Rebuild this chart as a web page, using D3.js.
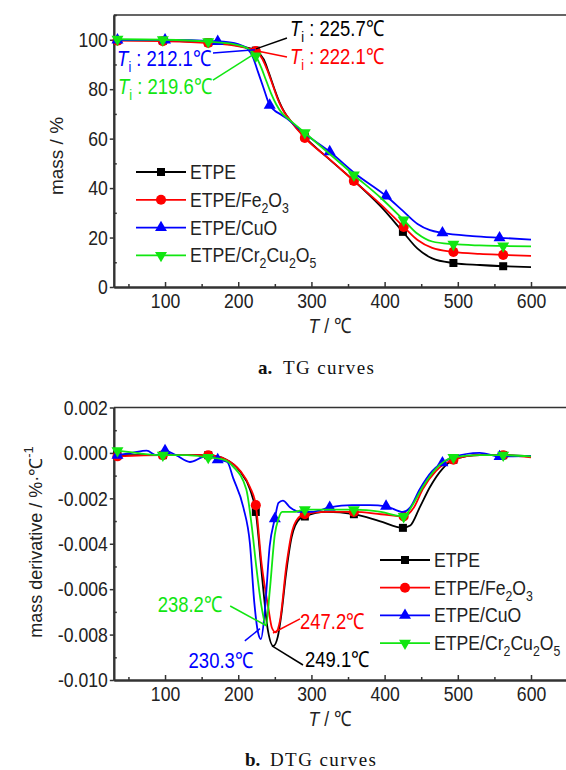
<!DOCTYPE html>
<html>
<head>
<meta charset="utf-8">
<script src="https://cdnjs.cloudflare.com/ajax/libs/d3/7.8.5/d3.min.js"></script>
<style>
body { margin: 0; background: #fff; }
svg { display: block; }
text { font-family: "Liberation Sans", Arial, sans-serif; fill: #222; }
.nar { transform-box: fill-box; transform: scaleX(0.84); }
.cap { font-family: "Liberation Serif", "Times New Roman", serif; }
</style>
</head>
<body>
<script>
// series names (underscore = subscript digit)
var names = ["ETPE", "ETPE/Fe_2O_3", "ETPE/CuO", "ETPE/Cr_2Cu_2O_5"];
var colors = ["#000000", "#ff0000", "#0000ff", "#11e611"];

// TG curves: [T (°C), mass (%)]
var tgEtpe = [[35,99.8],[97,99.6],[159,98.9],[195,97.8],[212,96.8],[224,95.6],[235,92],[242,86.5],[249,80.5],[256,75],[263,70.8],[272,67],[291,60.6],[325,51.5],[358,43],[395,32.5],[425,22.3],[445,15.5],[465,11.6],[494,9.7],[530,8.9],[562,8.4],[600,8.0]];
var tgFe = [[35,99.6],[97,99.4],[159,98.7],[195,97.6],[212,96.6],[224,95.4],[233,92.2],[240,87.5],[247,81.8],[254,76],[261,71.6],[270,67.8],[291,60.3],[325,51.6],[358,42.9],[395,33.3],[426,24.3],[445,19],[465,15.8],[494,14.2],[530,13.4],[562,13.0],[600,12.6]];
var tgCuo = [[35,99.9],[100,99.9],[172,99.3],[195,98.6],[205,97.6],[212,96.5],[220,93],[227,87],[234,81],[243,73.5],[250,71.3],[258,69.8],[266,68.2],[291,62],[325,54.7],[360,45.8],[402,36.8],[425,30.8],[445,25.5],[462,23],[479,21.9],[520,20.6],[557,19.9],[600,19.2]];
var tgCr = [[35,100.2],[97,100],[159,99.2],[195,98.1],[212,96.6],[224,93.4],[231,89],[238,83.6],[245,78.2],[252,73.8],[260,70.2],[270,67.6],[291,62.4],[325,53.8],[358,45.3],[395,36],[426,27.1],[445,21.5],[465,18.4],[494,17.3],[530,16.8],[562,16.6],[600,16.4]];

// DTG curves: [T (°C), mass derivative (%/°C)]
var dtgEtpe = [[35,-0.0001],[97,-0.0001],[159,-0.0001],[184,-0.0003],[202,-0.0008],[216,-0.0016],[224,-0.0026],[233,-0.0056],[240,-0.0077],[248,-0.0085],[254,-0.0081],[259,-0.0071],[265,-0.0054],[273,-0.0037],[284,-0.0029],[291,-0.0028],[320,-0.0026],[358,-0.0027],[393,-0.0030],[425,-0.0033],[435,-0.0032],[448,-0.0024],[462,-0.0015],[479,-0.0007],[494,-0.0003],[530,-0.0001],[562,-0.0001],[600,-0.00015]];
var dtgFe = [[35,-0.00015],[97,-0.0001],[159,-0.0001],[184,-0.0003],[203,-0.0008],[216,-0.0015],[224,-0.0023],[232,-0.0049],[241,-0.0068],[246,-0.0077],[251,-0.0079],[257,-0.0074],[266,-0.0049],[274,-0.0034],[284,-0.0028],[291,-0.0027],[320,-0.0026],[358,-0.0026],[395,-0.0027],[426,-0.0028],[440,-0.0024],[452,-0.0016],[470,-0.0008],[494,-0.0003],[530,-0.0001],[562,-0.0001],[600,-0.0002]];
var dtgCuo = [[35,-0.0001],[55,0.0],[75,0.0001],[88,-0.0001],[100,0.0001],[115,-0.0001],[134,-0.0004],[150,-0.0002],[160,-0.0001],[172,-0.0003],[185,-0.0004],[193,-0.0011],[207,-0.0024],[216,-0.0040],[222,-0.0066],[227,-0.0079],[231,-0.0082],[236,-0.0071],[243,-0.0041],[250,-0.0029],[255,-0.0022],[261,-0.0021],[271,-0.0024],[284,-0.0026],[300,-0.0026],[325,-0.0024],[355,-0.0023],[380,-0.0023],[402,-0.00235],[425,-0.0026],[435,-0.0024],[448,-0.0016],[465,-0.0008],[479,-0.00044],[493,-0.0002],[530,0.0],[557,-0.00016],[600,-0.00013]];
var dtgCr = [[35,0.0001],[60,0.0],[97,-0.0001],[130,-0.0001],[159,-0.0002],[180,-0.0003],[193,-0.0006],[211,-0.0016],[218,-0.0031],[225,-0.0051],[232,-0.0068],[238,-0.0076],[243,-0.0061],[250,-0.0036],[255,-0.0029],[260,-0.0026],[275,-0.0026],[291,-0.0025],[325,-0.0025],[358,-0.0025],[395,-0.0026],[426,-0.0028],[438,-0.0023],[452,-0.0015],[470,-0.0007],[494,-0.0002],[530,-0.0001],[562,-0.0001],[600,-0.00015]];

// temperatures where symbols are drawn
var markEtpe = [35,97,159,224,291,358,425,494,562];
var markFe = [35,97,159,224,291,358,426,494,562];
var markCuoTG = [35,100,172,243,325,402,479,557];
var markCuoDTG = [35,100,172,250,325,402,479,557];
var markCr = [35,97,159,224,291,358,426,494,562];

// ticks
var xTicks = [100,200,300,400,500,600];
var xMinor = [50,150,250,350,450,550,650];
var tgYTicks = [0,20,40,60,80,100];
var tgYMinor = [10,30,50,70,90,110];
var dtgYTicks = [-0.010,-0.008,-0.006,-0.004,-0.002,0.000,0.002];
var dtgYMinor = [-0.009,-0.007,-0.005,-0.003,-0.001,0.001];

// annotations: label, point on curve, leader end, text anchor point
var tgNotes = [
  { s: 0, t: "225.7", at: [224.3,96.3], to: [266.6,100.7], txt: [270.7,101.5], anchor: "start" },
  { s: 1, t: "222.1", at: [224.3,95.5], to: [266.6,93.0], txt: [270.7,90.2], anchor: "start" },
  { s: 2, t: "212.1", at: [222.9,95.9], to: [165.5,94.6], txt: [162.8,89.4], anchor: "end" },
  { s: 3, t: "219.6", at: [221.5,94.2], to: [165.5,83.7], txt: [164.1,78.1], anchor: "end" }
];
var dtgNotes = [
  { s: 3, t: "238.2", at: [238,-0.0076], to: [189,-0.00674], txt: [177.9,-0.0070], anchor: "end" },
  { s: 2, t: "230.3", at: [229.7,-0.00774], to: [209,-0.00828], txt: [220.2,-0.00947], anchor: "end" },
  { s: 1, t: "247.2", at: [247.5,-0.00793], to: [284.4,-0.00731], txt: [284.4,-0.00775], anchor: "start" },
  { s: 0, t: "249.1", at: [246.1,-0.0085], to: [288.5,-0.00934], txt: [291.2,-0.00943], anchor: "start" }
];

var W = 566, H = 770;
var svg = d3.select("body").append("svg").attr("width", W).attr("height", H);

var x = d3.scaleLinear().domain([30, 650]).range([113.8, 567.6]);
var yTG = d3.scaleLinear().domain([0, 110]).range([287, 15]);
var yDTG = d3.scaleLinear().domain([-0.010, 0.002]).range([680, 407.5]);

function symbolPath(i) {
    var types = [d3.symbolSquare, d3.symbolCircle, d3.symbolTriangle, d3.symbolTriangle];
    var sizes = [64, 80, 62, 62];
    return d3.symbol().type(types[i]).size(sizes[i])();
}
function symbolRot(i) { return i === 3 ? " rotate(180)" : ""; }

// narrow the glyphs like the original condensed font
function narrow(sel, anchor) {
    var origin = anchor === "end" ? "100% 50%" : anchor === "middle" ? "50% 50%" : "0% 50%";
    sel.classed("nar", true).style("transform-origin", origin).attr("text-anchor", anchor);
}

// text with "_d" subscripts
function richText(sel, str, size) {
    var parts = str.split(/(_\w)/).filter(function(p) { return p.length; });
    var down = false;
    parts.forEach(function(p) {
        if (p[0] === "_") {
            sel.append("tspan").attr("dy", down ? 0 : 6).style("font-size", (size * 0.7) + "px").text(p[1]);
            down = true;
        } else {
            sel.append("tspan").attr("dy", down ? -6 : 0).text(p);
            down = false;
        }
    });
}

function drawPanel(y, series, yTicks, yMinor, fmt, legendCfg, notes, yTitle) {
    var g = svg.append("g");
    var x0 = x.range()[0], x1 = x.range()[1];
    var yb = y.range()[0], yt = y.range()[1];

    // frame
    g.append("path")
        .attr("d", "M" + x0 + "," + yt + "H" + x1 + "V" + yb)
        .attr("fill", "none").attr("stroke", "#333").attr("stroke-width", 1.6);

    // x axis
    g.append("g").attr("transform", "translate(0," + yb + ")")
        .call(d3.axisBottom(x).tickValues(xMinor).tickSize(-3).tickSizeOuter(0).tickFormat(""));
    var xa = g.append("g").attr("transform", "translate(0," + yb + ")")
        .call(d3.axisBottom(x).tickValues(xTicks).tickSize(-5).tickSizeOuter(0).tickPadding(6));
    xa.selectAll("text").style("font-size", "21px").attr("fill", "#222").call(narrow, "middle");

    // y axis
    g.append("g").attr("transform", "translate(" + x0 + ",0)")
        .call(d3.axisLeft(y).tickValues(yMinor).tickSize(-3).tickSizeOuter(0).tickFormat(""));
    var ya = g.append("g").attr("transform", "translate(" + x0 + ",0)")
        .call(d3.axisLeft(y).tickValues(yTicks).tickSize(4).tickSizeOuter(0).tickPadding(2).tickFormat(fmt));
    ya.selectAll("text").style("font-size", "21px").attr("fill", "#222").call(narrow, "end");

    g.selectAll(".domain").attr("stroke", "#333").attr("stroke-width", 2);
    g.selectAll(".tick line").attr("stroke", "#333").attr("stroke-width", 1.5);
    g.selectAll("g text").attr("font-family", null);

    // x title
    var xt = g.append("text").attr("x", 330).attr("y", yb + 46)
        .style("font-size", "21px").call(narrow, "middle");
    xt.append("tspan").style("font-style", "italic").text("T");
    xt.append("tspan").text(" / \u2103");

    // y title
    var yl = g.append("text")
        .attr("transform", "translate(" + yTitle.x + "," + yTitle.y + ") rotate(-90)")
        .attr("text-anchor", "middle").style("font-size", yTitle.size + "px");
    yl.append("tspan").text(yTitle.text);
    if (yTitle.sup) {
        yl.append("tspan").attr("dy", -9).style("font-size", "13px").text(yTitle.sup);
    }

    // curves and symbols
    var line = d3.line()
        .x(function(d) { return x(d[0]); })
        .y(function(d) { return y(d[1]); })
        .curve(d3.curveMonotoneX);

    series.forEach(function(s, i) {
        g.append("path").datum(s.data)
            .attr("d", line)
            .attr("fill", "none")
            .attr("stroke", colors[i])
            .attr("stroke-width", 1.8);
        g.selectAll(null)
            .data(s.data.filter(function(d) { return s.marks.indexOf(d[0]) >= 0; }))
            .enter().append("path")
            .attr("d", symbolPath(i))
            .attr("transform", function(d) { return "translate(" + x(d[0]) + "," + y(d[1]) + ")" + symbolRot(i); })
            .attr("fill", colors[i]);
    });

    // annotations
    notes.forEach(function(n) {
        g.append("line")
            .attr("x1", x(n.at[0])).attr("y1", y(n.at[1]))
            .attr("x2", x(n.to[0])).attr("y2", y(n.to[1]))
            .attr("stroke", colors[n.s]).attr("stroke-width", 1.5);
        var t = g.append("text")
            .attr("x", x(n.txt[0])).attr("y", y(n.txt[1]))
            .style("font-size", "22px")
            .style("fill", colors[n.s])
            .call(narrow, n.anchor);
        if (n.ti) {
            t.append("tspan").style("font-style", "italic").text("T");
            t.append("tspan").attr("dy", 6).style("font-size", "15px").text("i");
            t.append("tspan").attr("dy", -6).text(" : " + n.t + "\u2103");
        } else {
            t.text(n.t + "\u2103");
        }
    });

    // legend
    names.forEach(function(nm, i) {
        var ly = legendCfg.y + i * legendCfg.step;
        g.append("line")
            .attr("x1", legendCfg.x).attr("x2", legendCfg.x + 50)
            .attr("y1", ly).attr("y2", ly)
            .attr("stroke", colors[i]).attr("stroke-width", 1.8);
        g.append("path")
            .attr("d", symbolPath(i))
            .attr("transform", "translate(" + (legendCfg.x + 25) + "," + ly + ")" + symbolRot(i))
            .attr("fill", colors[i]);
        var t = g.append("text")
            .attr("x", legendCfg.x + 54).attr("y", ly + 7)
            .style("font-size", "21px")
            .call(narrow, "start");
        richText(t, nm, 21);
    });
}

tgNotes.forEach(function(n) { n.ti = true; });

drawPanel(yTG,
    [{ data: tgEtpe, marks: markEtpe }, { data: tgFe, marks: markFe },
     { data: tgCuo, marks: markCuoTG }, { data: tgCr, marks: markCr }],
    tgYTicks, tgYMinor, function(d) { return d; },
    { x: 136, y: 172, step: 27.8 }, tgNotes,
    { x: 63, y: 156, text: "mass / %", size: 19 });

drawPanel(yDTG,
    [{ data: dtgEtpe, marks: markEtpe }, { data: dtgFe, marks: markFe },
     { data: dtgCuo, marks: markCuoDTG }, { data: dtgCr, marks: markCr }],
    dtgYTicks, dtgYMinor, function(d) { return d.toFixed(3); },
    { x: 380, y: 560, step: 27.7 }, dtgNotes,
    { x: 42, y: 542, text: "mass derivative / %\u00b7\u2103", sup: "-1", size: 18 });

// captions
function caption(xa, xb, yb, a, b) {
    var t = svg.append("text").attr("class", "cap").attr("y", yb).style("font-size", "19px").style("fill", "#111");
    t.append("tspan").attr("x", xa).style("font-weight", "bold").text(a);
    t.append("tspan").attr("x", xb).style("letter-spacing", "1.4px").text(b);
}
caption(258, 283, 374, "a.", "TG curves");
caption(245, 270, 766, "b.", "DTG curves");
</script>
</body>
</html>
